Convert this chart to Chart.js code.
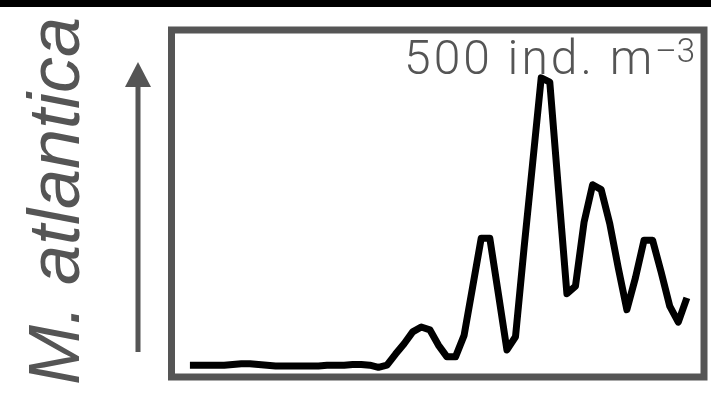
<!DOCTYPE html>
<html>
<head>
<meta charset="utf-8">
<script src="https://cdn.jsdelivr.net/npm/chart.js"></script>
<style>
  html, body {
    margin: 0;
    padding: 0;
    background: white;
    width: 711px;
    height: 411px;
    overflow: hidden;
  }
  #wrap {
    position: relative;
    width: 711px;
    height: 411px;
  }
  #topbar {
    position: absolute;
    left: 0;
    top: 0;
    width: 711px;
    height: 7px;
    background: #000;
  }
  canvas {
    position: absolute;
    left: 0;
    top: 0;
  }
  #scaleLabel {
    position: absolute;
    right: 16px;
    top: 34px;
    font-family: Roboto, 'Liberation Sans', sans-serif;
    font-weight: 300;
    font-size: 48px;
    line-height: 48px;
    letter-spacing: 3px;
    color: #555;
    white-space: nowrap;
  }
  #scaleLabel sup {
    font-size: 33px;
    line-height: 0;
    vertical-align: 12px;
    letter-spacing: 0;
  }
  #species {
    position: absolute;
    left: -146px;
    top: 161px;
    width: 400px;
    height: 80px;
    line-height: 80px;
    text-align: center;
    transform: rotate(-90deg);
    font-family: 'Liberation Sans', Arial, sans-serif;
    font-style: italic;
    font-size: 72px;
    color: #555;
    white-space: nowrap;
  }
</style>
</head>
<body>
<div id="wrap">
  <canvas id="densityChart" width="711" height="411"></canvas>
  <div id="topbar"></div>
  <div id="scaleLabel">500 ind. m<sup>–3</sup></div>
  <div id="species">M. atlantica</div>
</div>

<script>
  // sample number along the transect
  const sampleNo = [
    1, 2, 3, 4, 5, 6, 7, 8, 9, 10,
    11, 12, 13, 14, 15, 16, 17, 18, 19, 20,
    21, 22, 23, 24, 25, 26, 27, 28, 29, 30,
    31, 32, 33, 34, 35, 36, 37, 38, 39, 40,
    41, 42, 43, 44, 45, 46, 47, 48, 49, 50,
    51, 52, 53, 54, 55, 56, 57, 58, 59
  ]
  // M. atlantica abundance (ind. m^-3)
  const abundance = [
    17, 17, 17, 17, 17, 18, 19, 19, 18, 17,
    16, 16, 16, 16, 16, 16, 17, 17, 17, 18,
    18, 17, 14, 17, 33, 48, 65, 72, 68, 46,
    29, 29, 60, 130, 200, 200, 120, 39, 58, 186,
    308, 431, 425, 272, 120, 131, 223, 277, 270, 221,
    157, 97, 143, 197, 197, 151, 102, 79, 114
  ]
  const scaleMax = 500

  const points = sampleNo.map((n, i) => ({ x: n, y: abundance[i] }))

  // grey frame round the plot area and the arrow on the left
  const framePlugin = {
    id: 'frame',
    beforeDatasetsDraw(chart) {
      const ctx = chart.ctx
      const a = chart.chartArea
      ctx.save()
      ctx.strokeStyle = '#555'
      ctx.lineWidth = 7
      ctx.strokeRect(a.left, a.top, a.right - a.left, a.bottom - a.top)

      // arrow
      const ax = a.left - 33.5
      ctx.fillStyle = '#555'
      ctx.fillRect(ax - 2.5, 84, 5, 268)
      ctx.beginPath()
      ctx.moveTo(ax, 62)
      ctx.lineTo(ax - 13, 87)
      ctx.lineTo(ax + 13, 87)
      ctx.closePath()
      ctx.fill()
      ctx.restore()
    }
  }

  const ctx = document.getElementById('densityChart').getContext('2d')
  new Chart(ctx, {
    type: 'line',
    data: {
      datasets: [{
        data: points,
        borderColor: '#000',
        borderWidth: 7,
        borderJoinStyle: 'round',
        borderCapStyle: 'butt',
        pointRadius: 0,
        tension: 0,
        fill: false
      }]
    },
    options: {
      responsive: false,
      animation: false,
      layout: {
        padding: { left: 171.5, right: 7, top: 30, bottom: 34 }
      },
      plugins: {
        legend: { display: false },
        tooltip: { enabled: false }
      },
      scales: {
        x: { type: 'linear', min: -1.15, max: 61, display: false },
        y: { min: 0, max: scaleMax, display: false }
      }
    },
    plugins: [framePlugin]
  })
</script>
</body>
</html>
